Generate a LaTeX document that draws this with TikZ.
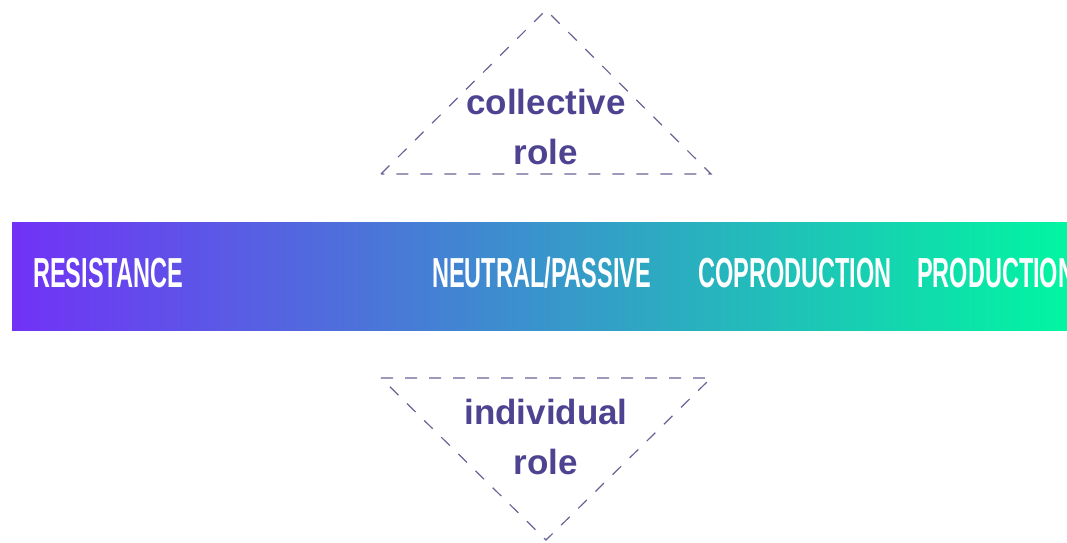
\documentclass[tikz,border=0pt]{standalone}
\usepackage{fontspec}
\setmainfont{Liberation Sans}
\usepackage{xcolor}
\usetikzlibrary{positioning}

\definecolor{barleft}{HTML}{7132F6}
\definecolor{barmid}{HTML}{3C98D6}
\definecolor{barright}{HTML}{00F8A0}
\definecolor{roleline}{HTML}{6A6296}
\definecolor{roletext}{HTML}{4E4391}

\tikzset{
  barlabel/.style={anchor=west, inner sep=0pt, text=white, xscale=0.56,
    font=\fontsize{42}{42}\selectfont\bfseries},
  roletri/.style={draw=roleline, line width=1.2pt, dash pattern=on 12pt off 12pt},
  rolelabel/.style={align=center, text=roletext,
    font=\fontsize{35}{50}\selectfont\bfseries}
}

\begin{document}
\begin{tikzpicture}[x=1pt, y=-1pt]
\useasboundingbox (0,0) rectangle (1067,542);
\clip (0,0) rectangle (1067,542);

% Gradient bar
\shade[left color=barleft, middle color=barmid, right color=barright]
  (12,222) rectangle (1080,330);

% Bar labels
\node[barlabel] (resist) at (33,273) {RESISTANCE};
\node[barlabel] (neutral) at (432,273) {NEUTRAL/PASSIVE};
\node[barlabel] (coprod) at (698,273) {COPRODUCTION};
\node[barlabel] (prod) at (917,273) {PRODUCTION};

% Collective triangle
\coordinate (ctop) at (546,10);
\coordinate (cleft) at (381,174);
\coordinate (cright) at (711,174);
\draw[roletri] (cleft) -- (ctop) -- (cright) -- cycle;
\node[rolelabel] (collective) at (546,127) {collective\\role};

% Individual triangle
\coordinate (ibottom) at (546,540);
\coordinate (ileft) at (381,378);
\coordinate (iright) at (711,378);
\draw[roletri] (ileft) -- (iright) -- (ibottom) -- cycle;
\node[rolelabel] (individual) at (546,437) {individual\\role};

\end{tikzpicture}
\end{document}
